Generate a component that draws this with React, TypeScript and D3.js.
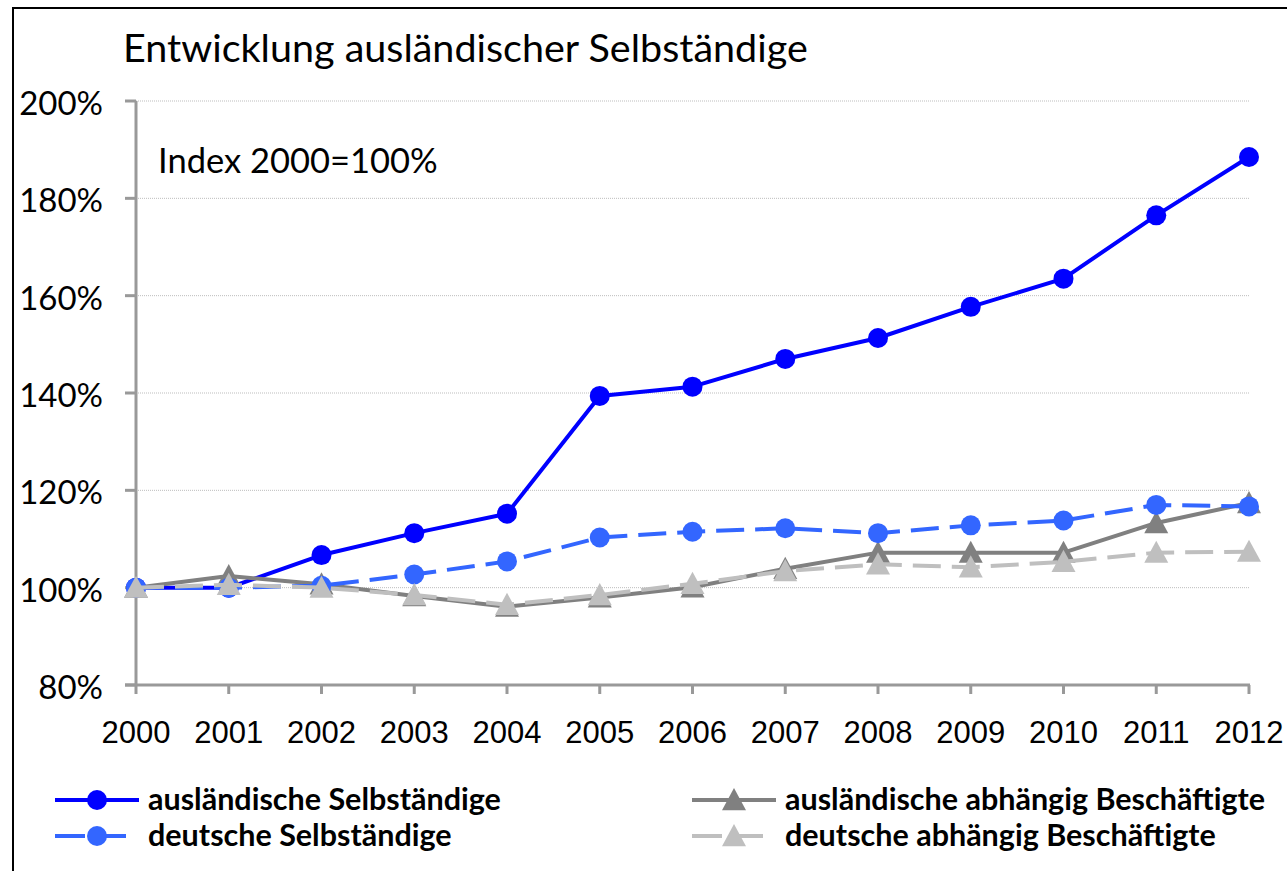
import * as d3 from 'd3';

// Index 2000 = 100%
const years = [2000, 2001, 2002, 2003, 2004, 2005, 2006, 2007, 2008, 2009, 2010, 2011, 2012];
const auslSelbst = [100, 100, 106.7, 111.2, 115.2, 139.4, 141.3, 147.0, 151.3, 157.7, 163.5, 176.5, 188.5];
const deutSelbst = [100, 100, 100.4, 102.7, 105.4, 110.3, 111.5, 112.2, 111.2, 112.8, 113.8, 117.0, 116.7];
const auslAbh = [100, 102.4, 100.7, 98.3, 96.1, 98.0, 100.1, 103.9, 107.2, 107.2, 107.2, 113.3, 117.4];
const deutAbh = [100, 100.6, 100.0, 98.5, 96.5, 98.5, 100.8, 103.4, 104.8, 104.2, 105.3, 107.2, 107.4];
const yTicks = [80, 100, 120, 140, 160, 180, 200];

const calibri = 'Lato, "Open Sans", sans-serif';
const arial = '"Liberation Sans", Arial, sans-serif';

type Series = {
  name: string;
  values: number[];
  color: string;
  dash: string | null;
  marker: 'circle' | 'triangle';
};

// Excel's drawing order: legend row by row
const series: Series[] = [
  { name: 'ausländische Selbständige', values: auslSelbst, color: '#0000FF', dash: null, marker: 'circle' },
  { name: 'ausländische abhängig Beschäftigte', values: auslAbh, color: '#808080', dash: null, marker: 'triangle' },
  { name: 'deutsche Selbständige', values: deutSelbst, color: '#3366FF', dash: '28,11', marker: 'circle' },
  { name: 'deutsche abhängig Beschäftigte', values: deutAbh, color: '#BFBFBF', dash: '28,11', marker: 'triangle' },
];

const W = 1287;
const H = 871;

function Marker({ kind, x, y, color }: { kind: string; x: number; y: number; color: string }) {
  if (kind === 'circle') return <circle cx={x} cy={y} r={10} fill={color} />;
  const s = 12;
  return <path d={`M${x},${y - s}L${x + s},${y + s * 0.85}L${x - s},${y + s * 0.85}Z`} fill={color} />;
}

export default function App() {
  const x = d3.scaleLinear().domain([2000, 2012]).range([136, 1249]);
  const y = d3.scaleLinear().domain([80, 200]).range([685, 101]);

  const line = d3
    .line<number>()
    .x((_, i) => x(years[i]))
    .y((d) => y(d));

  const legendPos = [
    { lx: 55, ly: 800 },
    { lx: 692, ly: 800 },
    { lx: 55, ly: 836 },
    { lx: 692, ly: 836 },
  ];

  return (
    <div style={{ position: 'absolute', left: 0, top: 0 }}>
      <svg width={W} height={H} style={{ display: 'block', background: '#fff' }}>
        <rect x={13} y={8} width={1300} height={900} fill="#fff" stroke="#000" strokeWidth={2} />

        <text x={123} y={62} fontFamily={calibri} fontSize={39.5} fill="#000">
          Entwicklung ausländischer Selbständige
        </text>

        {/* gridlines */}
        {yTicks.slice(1).map((t) => (
          <line key={t} x1={x(2000)} x2={x(2012)} y1={y(t)} y2={y(t)} stroke="#bdbdbd" strokeWidth={1} strokeDasharray="1,1" />
        ))}

        {/* y axis */}
        <line x1={x(2000)} x2={x(2000)} y1={y(200)} y2={y(80)} stroke="#999" strokeWidth={3} />
        {yTicks.map((t) => (
          <g key={t}>
            <line x1={125} x2={x(2000)} y1={y(t)} y2={y(t)} stroke="#999" strokeWidth={3} />
            <text x={103} y={y(t) + 14} textAnchor="end" fontFamily={calibri} fontSize={33} fill="#000">
              {t}%
            </text>
          </g>
        ))}

        {/* x axis */}
        <line x1={x(2000) - 11} x2={x(2012) + 1} y1={y(80)} y2={y(80)} stroke="#999" strokeWidth={3} />
        {years.map((yr) => (
          <g key={yr}>
            <line x1={x(yr)} x2={x(yr)} y1={y(80)} y2={y(80) + 9} stroke="#999" strokeWidth={3} />
            <text x={x(yr)} y={743} textAnchor="middle" fontFamily={arial} fontSize={31} fill="#000">
              {yr}
            </text>
          </g>
        ))}

        <text x={158} y={173} fontFamily={calibri} fontSize={34.5} fill="#000">
          Index 2000=100%
        </text>

        {/* series */}
        {series.map((s) => (
          <g key={s.name}>
            <path
              d={line(s.values) ?? ''}
              fill="none"
              stroke={s.color}
              strokeWidth={4}
              strokeDasharray={s.dash ?? undefined}
              strokeLinejoin="round"
            />
            {s.values.map((v, i) => (
              <Marker key={i} kind={s.marker} x={x(years[i])} y={y(v)} color={s.color} />
            ))}
          </g>
        ))}

        {/* legend */}
        {series.map((s, i) => {
          const { lx, ly } = legendPos[i];
          return (
            <g key={s.name}>
              <line
                x1={lx}
                x2={lx + (s.dash ? 72 : 84)}
                y1={ly}
                y2={ly}
                stroke={s.color}
                strokeWidth={4}
                strokeDasharray={s.dash ? '30,11' : undefined}
              />
              <Marker kind={s.marker} x={lx + 42} y={ly} color={s.color} />
              <text x={lx + 93} y={ly + 10} fontFamily={calibri} fontWeight="bold" fontSize={30.5} fill="#000">
                {s.name}
              </text>
            </g>
          );
        })}
      </svg>
    </div>
  );
}
